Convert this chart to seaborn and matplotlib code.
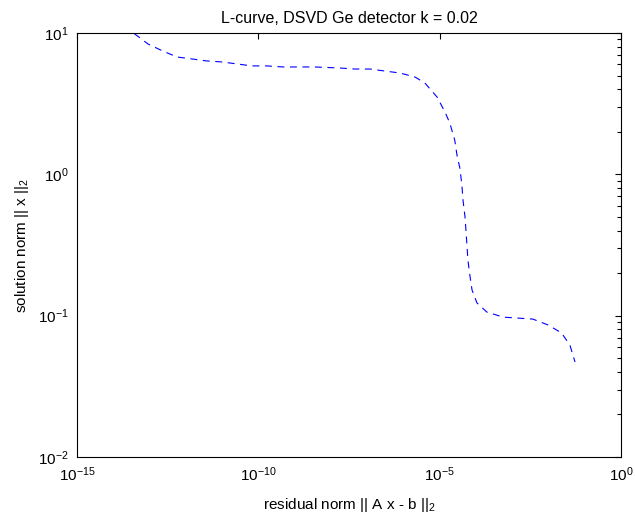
import numpy as np
import pandas as pd
import matplotlib
matplotlib.use("Agg")
import matplotlib.pyplot as plt
import matplotlib.ticker as mticker
import seaborn as sns

residual_norm = [3.8e-14, 9.1e-14, 2.3e-13, 5.8e-13, 1.5e-12, 3.8e-12, 1.0e-11, 2.6e-11,
                 6.6e-11, 1.7e-10, 4.8e-10, 1.4e-9, 3.6e-9, 1.8e-8, 4.6e-8, 1.2e-7,
                 3.1e-7, 8.1e-7, 2.1e-6, 3.9e-6, 8.5e-6, 1.4e-5, 1.9e-5, 2.6e-5,
                 3.0e-5, 3.6e-5, 4.1e-5, 4.4e-5, 5.0e-5, 5.6e-5, 6.0e-5, 6.9e-5,
                 7.8e-5, 1.07e-4, 2.0e-4, 5.6e-4, 1.45e-3, 3.7e-3, 9.8e-3, 2.3e-2,
                 3.9e-2, 5.4e-2]
solution_norm = [9.9, 8.36, 7.46, 6.76, 6.55, 6.34, 6.24, 6.04,
                 5.85, 5.85, 5.75, 5.75, 5.75, 5.65, 5.56, 5.56,
                 5.38, 5.21, 4.88, 4.43, 3.52, 2.76, 2.31, 1.75,
                 1.37, 1.11, 0.84, 0.658, 0.499, 0.327, 0.248, 0.188,
                 0.152, 0.123, 0.106, 0.0977, 0.0961, 0.0946, 0.0859, 0.0754,
                 0.0619, 0.0470]
x_ticks = [1e-15, 1e-10, 1e-5, 1e0]
y_ticks = [1e-2, 1e-1, 1e0, 1e1]

title = "L-curve, DSVD Ge detector k = 0.02"
xlabel = "residual norm || A x - b ||$_2$"
ylabel = "solution norm || x ||$_2$"

sns.set_style("white")
plt.rcParams["font.family"] = ["Liberation Sans", "DejaVu Sans"]
plt.rcParams["mathtext.fontset"] = "custom"
plt.rcParams["mathtext.rm"] = "Liberation Sans"
plt.rcParams["mathtext.it"] = "Liberation Sans:italic"
plt.rcParams["mathtext.bf"] = "Liberation Sans:bold"
plt.rcParams["axes.unicode_minus"] = False
plt.rcParams["lines.scale_dashes"] = False

df = pd.DataFrame({"residual": residual_norm, "solution": solution_norm})

fig = plt.figure(figsize=(6.35, 5.18), dpi=100)
ax = fig.add_axes([77/635, 1 - 457/518, (621-77)/635, (457-33)/518])

sns.lineplot(data=df, x="residual", y="solution", sort=False, estimator=None,
             color=(0, 0, 1), linewidth=0.8, ax=ax)
ax.lines[0].set_dashes((5.0, 4.0))

ax.set_xscale("log")
ax.set_yscale("log")
ax.set_xlim(1e-15, 1e0)
ax.set_ylim(1e-2, 1e1)

ax.xaxis.set_major_locator(mticker.FixedLocator(x_ticks))
ax.xaxis.set_minor_locator(mticker.NullLocator())
ax.yaxis.set_major_locator(mticker.FixedLocator(y_ticks))
ax.yaxis.set_minor_locator(mticker.LogLocator(base=10, subs=np.arange(2, 10), numticks=20))
ax.xaxis.set_major_formatter(mticker.LogFormatterSciNotation())
ax.yaxis.set_major_formatter(mticker.LogFormatterSciNotation())
ax.yaxis.set_minor_formatter(mticker.NullFormatter())

ax.tick_params(which="both", direction="in", top=True, right=True, color="black",
               width=0.8, labelsize=11, labelcolor="black")
ax.tick_params(which="major", length=4.5, pad=6)
ax.tick_params(which="minor", length=3)

for s in ax.spines.values():
    s.set_color("black")
    s.set_linewidth(0.8)
    s.set_visible(True)

ax.set_title(title, fontsize=11.5, pad=7, color="black")
ax.set_xlabel(xlabel, fontsize=11, color="black", labelpad=9)
ax.set_ylabel(ylabel, fontsize=11, color="black", labelpad=5)

fig.savefig("out.png", dpi=100, facecolor="white")
